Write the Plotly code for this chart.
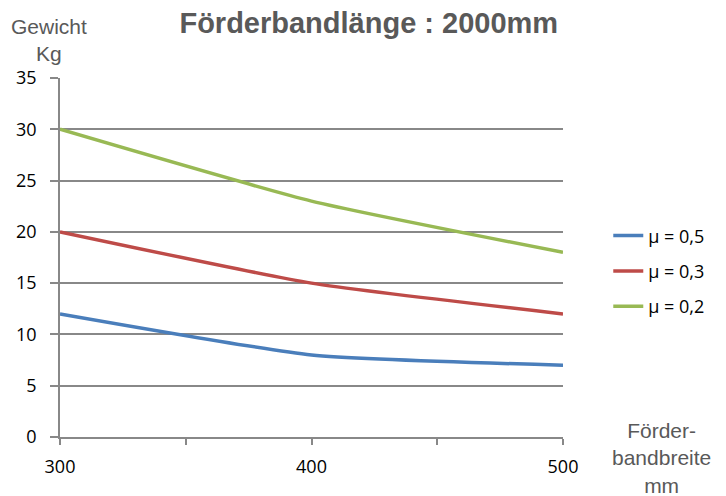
import plotly.graph_objects as go

# Förderbandbreite (mm) on the x axis, weight (kg) per friction coefficient
breite = [300, 400, 500]
gewicht_mu05 = [12, 8, 7]
gewicht_mu03 = [20, 15, 12]
gewicht_mu02 = [30, 23, 18]

serien = [
    ("\u03bc = 0,5", gewicht_mu05, "#4A7EBB"),
    ("\u03bc = 0,3", gewicht_mu03, "#BE4B48"),
    ("\u03bc = 0,2", gewicht_mu02, "#98B954"),
]

x_tickvals = [300, 350, 400, 450, 500]
x_ticktext = ["300", "", "400", "", "500"]
y_tickvals = [0, 5, 10, 15, 20, 25, 30, 35]

tick_font = dict(family="Open Sans, Liberation Sans, sans-serif", size=18, color="#000000")
label_font = dict(family="Liberation Sans, Arial, sans-serif", size=21, color="#595959")
axis_grey = "#888888"

fig = go.Figure()
for i, (name, werte, farbe) in enumerate(serien):
    fig.add_trace(go.Scatter(
        x=breite, y=werte, name=name, mode="lines",
        line=dict(color=farbe, width=3.5, shape="spline", smoothing=0.5),
        legendgroup=f"g{i}",
    ))

fig.update_layout(
    width=726, height=496,
    margin=dict(l=60, r=163, t=78, b=59),
    paper_bgcolor="white", plot_bgcolor="white",
    title=dict(
        text="<b>Förderbandlänge : 2000mm</b>",
        font=dict(family="Liberation Sans, Arial, sans-serif", size=29, color="#595959"),
        x=0.508, xanchor="center", y=0.953, yanchor="middle",
    ),
    legend=dict(
        x=1.09, xanchor="left", y=0.612, yanchor="top",
        font=dict(family="Open Sans, Liberation Sans, sans-serif", size=18, color="#000000"),
        traceorder="grouped", tracegroupgap=9,
        bgcolor="rgba(0,0,0,0)",
    ),
    xaxis=dict(
        range=[300, 500], tickmode="array", tickvals=x_tickvals, ticktext=x_ticktext,
        showgrid=False, zeroline=False,
        showline=True, linecolor=axis_grey, linewidth=1.5,
        ticks="outside", ticklen=6, tickcolor=axis_grey, tickwidth=1.5,
        tickfont=tick_font, ticklabelstandoff=7,
    ),
    yaxis=dict(
        range=[0, 35], tickmode="array", tickvals=y_tickvals,
        showgrid=True, gridcolor=axis_grey, gridwidth=1.5, zeroline=False,
        showline=True, linecolor=axis_grey, linewidth=1.5,
        ticks="outside", ticklen=8, tickcolor=axis_grey, tickwidth=1.5,
        tickfont=tick_font, ticklabelstandoff=10,
    ),
    annotations=[
        dict(text="Gewicht<br>Kg", xref="paper", yref="paper",
             x=-0.022, y=1.0, xanchor="center", yanchor="bottom", yshift=11,
             showarrow=False, font=label_font, align="center"),
        dict(text="Förder-<br>bandbreite<br>mm", xref="paper", yref="paper",
             x=1.196, y=0.03, xanchor="center", yanchor="top", yshift=9,
             showarrow=False, font=label_font, align="center"),
    ],
)

fig.write_html("out.html")
